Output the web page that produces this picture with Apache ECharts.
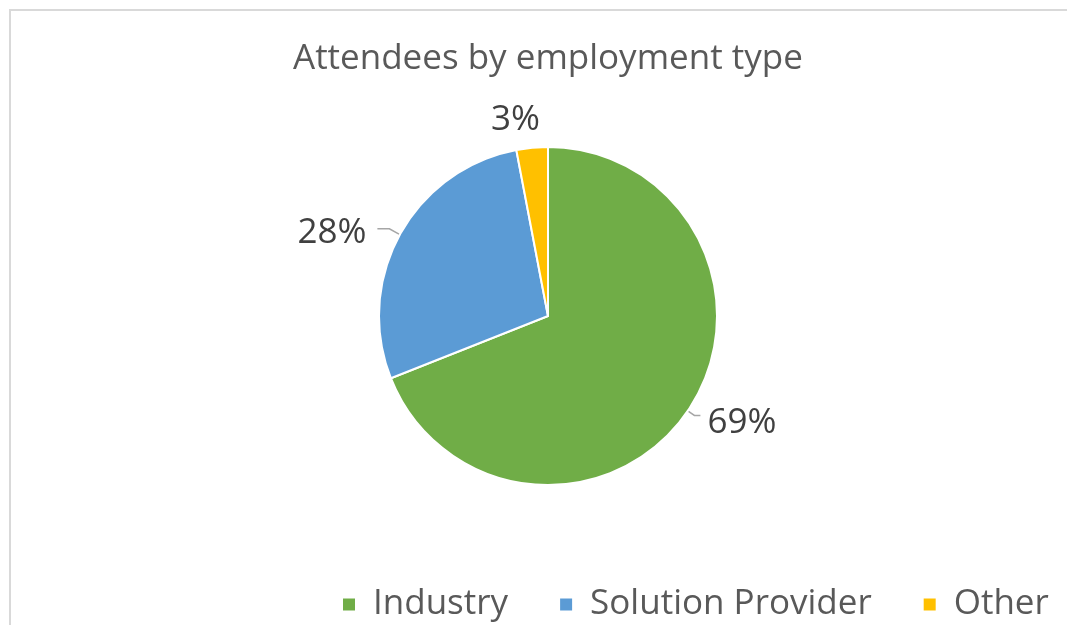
<!DOCTYPE html>
<html>
<head>
<meta charset="utf-8">
<script src="https://cdn.jsdelivr.net/npm/echarts@6/dist/echarts.min.js"></script>
<style>
html,body{margin:0;padding:0;background:#fff;overflow:hidden}
#wrap{position:relative;width:1067px;height:625px;overflow:hidden}
#lineTop{position:absolute;left:9px;top:9px;width:2000px;height:2px;background:#d9d9d9}
#lineLeft{position:absolute;left:9px;top:9px;width:2px;height:2000px;background:#d9d9d9}
#c{position:absolute;left:0;top:0;width:1067px;height:625px}
</style>
</head>
<body>
<div id="wrap"><div id="lineTop"></div><div id="lineLeft"></div><div id="c"></div></div>
<script>
const titleText = 'Attendees by employment type';
const categories = ['Industry', 'Solution Provider', 'Other'];
const values = [69, 28, 3];
const colors = ['#70AD47', '#5B9BD5', '#FFC000'];

const chart = echarts.init(document.getElementById('c'));
const FONT = 'Open Sans';
chart.setOption({
  backgroundColor: 'transparent',
  animation: false,
  title: {
    text: titleText, left: 288, top: 37,
    textStyle: {fontFamily: FONT, fontSize: 35, fontWeight: 'normal', color: '#595959'}
  },
  legend: {
    data: categories, bottom: -2, left: 336,
    itemWidth: 14, itemHeight: 14, itemGap: 50, icon: 'rect',
    textStyle: {fontFamily: FONT, fontSize: 35, color: '#595959', padding: [0, 0, 0, 12]}
  },
  series: [{
    type: 'pie',
    center: [548, 316],
    radius: 169,
    startAngle: 90,
    clockwise: true,
    avoidLabelOverlap: false,
    itemStyle: {borderColor: '#fff', borderWidth: 2},
    label: {
      show: true, position: 'outside',
      formatter: p => p.value + '%',
      fontFamily: FONT, fontSize: 35, color: '#404040'
    },
    labelLine: {show: true, length: 12, length2: 14, lineStyle: {color: '#a6a6a6', width: 1.5}},
    labelLayout: p => p.dataIndex === 2 ? {dx: 28, dy: -16} : (p.dataIndex === 0 ? {dx: 2, dy: 8} : {dx: -6, dy: 4}),
    data: categories.map((n, i) => ({
      name: n, value: values[i], itemStyle: {color: colors[i]},
      labelLine: i === 0 ? {length: 8, length2: 6} : (i === 1 ? {length: 12, length2: 12} : {show: false})
    }))
  }]
});
</script>
</body>
</html>
